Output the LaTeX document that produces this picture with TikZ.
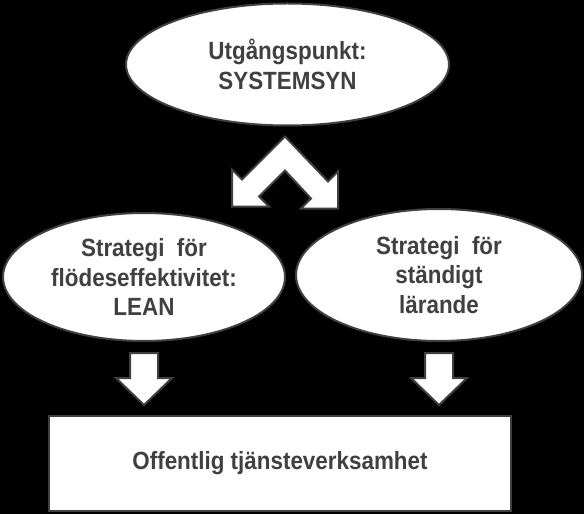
\documentclass[tikz,border=0pt]{standalone}
\usepackage{fontspec}
\setmainfont[FakeStretch=0.9]{Liberation Sans}
\usetikzlibrary{shapes.geometric,calc}
\definecolor{ink}{HTML}{404040}
\tikzstyle{bubble}=[ellipse,draw=ink,line width=2bp,fill=white,text=ink,align=center,inner sep=0pt,font=\fontsize{25}{30}\selectfont\bfseries]
\tikzstyle{target}=[rectangle,draw=ink,line width=2bp,fill=white,text=ink,inner sep=0pt,font=\fontsize{25}{30}\selectfont\bfseries]
\tikzstyle{blockarrow}=[draw=ink,line width=2bp,fill=white,line join=miter]

\begin{document}
\begin{tikzpicture}[x=1bp,y=-1bp]
    \fill[black] (0,0) rectangle (584,514);
        \node[bubble,minimum width=323bp,minimum height=122bp] (sys) at (287.5,64.5) {Utgångspunkt:\\SYSTEMSYN};
        \node[bubble,minimum width=282bp,minimum height=128bp] (lean) at (144,277) {Strategi~~för\\flödeseffektivitet:\\LEAN};
        \node[bubble,minimum width=286bp,minimum height=132bp] (learn) at (439,275) {Strategi~~för\\ständigt\\lärande};
        \node[target,minimum width=462bp,minimum height=95bp] (ops) at (280,463.5) {Offentlig tjänsteverksamhet};
        % double arrow below the top ellipse
        \coordinate (fork) at ($(sys.south)+(-2.5,10)$);
        \draw[blockarrow] (fork)
            -- ++(43,45) -- ++(10,-10) -- ++(0,37) -- ++(-37,0) -- ++(10,-10)
            -- ($(fork)+(0,34)$)
            -- ++(-26,26) -- ++(10,10) -- ++(-37,0) -- ++(0,-37) -- ++(10,10) -- cycle;
        % arrows down to the box
        \foreach \n in {lean,learn}
            \draw[blockarrow] ($(\n.south)+(-14,11)$) -- ++(28,0) -- ++(0,25) -- ++(14,0)
                -- ++(-28,27) -- ++(-28,-27) -- ++(14,0) -- cycle;
    \end{tikzpicture}
\end{document}
